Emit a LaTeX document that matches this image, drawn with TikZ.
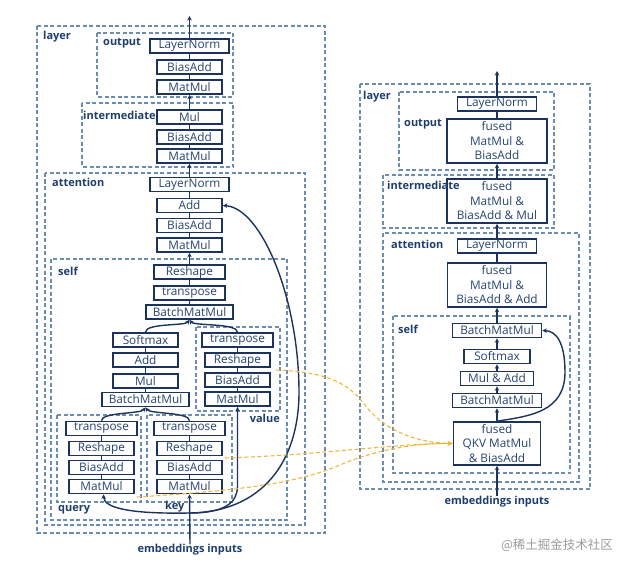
\documentclass[tikz,border=0pt]{standalone}
\usepackage{fontspec}
\setmainfont{Open Sans}
\newfontfamily\cjkfont{Noto Sans CJK SC}
\usetikzlibrary{arrows.meta,calc}
\definecolor{navy}{HTML}{1C335E}
\definecolor{optext}{HTML}{27446F}
\definecolor{dashc}{HTML}{6C8DB2}
\definecolor{lbl}{HTML}{1F3D6B}
\definecolor{orng}{HTML}{F0B53C}
\definecolor{wm}{HTML}{9A9A9A}
\begin{document}
\begin{tikzpicture}[x=1pt,y=-1pt,
 op/.style={draw=navy,fill=white,line width=1.6pt,inner sep=0pt,minimum height=14pt,text=optext,font=\fontsize{11.8}{14.5}\selectfont,align=center},
 grp/.style={draw=dashc,line width=1.1pt,dash pattern=on 4pt off 2.5pt},
 lab/.style={text=lbl,font=\fontsize{11}{12}\selectfont\bfseries,inner sep=0pt,anchor=west},
 con/.style={draw=navy,line width=1.4pt},
 arr/.style={con,-{Stealth[length=4.5pt,width=4.5pt]}},
 oarr/.style={draw=orng,line width=1.1pt,dash pattern=on 4pt off 2.5pt,-{Stealth[length=5pt,width=4.5pt]}},
]
\useasboundingbox (0,0) rectangle (632,567);
% groups left
\draw[grp] (37,26) rectangle (325,533);
\draw[grp] (97,33) rectangle (233,97);
\draw[grp] (82,103) rectangle (233,167);
\draw[grp] (45,173) rectangle (305,525);
\draw[grp] (51,259) rectangle (287,520);
\draw[grp] (196,327) rectangle (280,411);
\draw[grp] (57,415) rectangle (141,502);
\draw[grp] (147,415) rectangle (232,502);
% groups right
\draw[grp] (360,84) rectangle (590,489);
\draw[grp] (399,92) rectangle (554,170);
\draw[grp] (383,175) rectangle (554,228);
\draw[grp] (383,233) rectangle (579,482);
\draw[grp] (393,316) rectangle (570,473);
% labels
\node[lab] (lLayer) at (43,37) {layer};
\node[lab] (lOut) at (103,43) {output};
\node[lab] (lInt) at (83,115) {intermediate};
\node[lab] (lAtt) at (52,182) {attention};
\node[lab] (lSelf) at (58,271) {self};
\node[lab,anchor=east] (lVal) at (280,418) {value};
\node[lab] (lQ) at (58,510) {query};
\node[lab] (lK) at (165,507) {key};
\node[lab] (rLayer) at (363,97) {layer};
\node[lab] (rOut) at (404,124) {output};
\node[lab] (rAtt) at (391,244) {attention};
\node[lab] (rSelf) at (398,329) {self};
% left nodes
\node[op,minimum width=79pt] (oLN) at (189.5,46) {LayerNorm};
\node[op,minimum width=65pt] (oBA) at (189.5,67) {BiasAdd};
\node[op,minimum width=65pt] (oMM) at (189.5,87) {MatMul};
\node[op,minimum width=65pt] (iMul) at (189.5,117) {Mul};
\node[op,minimum width=65pt] (iBA) at (189.5,137) {BiasAdd};
\node[op,minimum width=65pt] (iMM) at (189.5,156) {MatMul};
\node[op,minimum width=79pt] (aLN) at (189.5,184.5) {LayerNorm};
\node[op,minimum width=65pt] (aAdd) at (189.5,205.5) {Add};
\node[op,minimum width=65pt] (aBA) at (189.5,225.5) {BiasAdd};
\node[op,minimum width=65pt] (aMM) at (189.5,245) {MatMul};
\node[op,minimum width=71pt] (sRe) at (189.5,272) {Reshape};
\node[op,minimum width=71pt] (sTr) at (189.5,293) {transpose};
\node[op,minimum width=87pt] (sB1) at (189.5,312) {BatchMatMul};
\node[op,minimum width=65pt] (sSm) at (145.5,340) {Softmax};
\node[op,minimum width=65pt] (sAdd) at (145.5,360) {Add};
\node[op,minimum width=65pt] (sMul) at (145.5,381) {Mul};
\node[op,minimum width=87pt] (sB2) at (145.5,399.5) {BatchMatMul};
\node[op,minimum width=71pt] (vT) at (237.5,340) {transpose};
\node[op,minimum width=65pt] (vRe) at (237.5,360) {Reshape};
\node[op,minimum width=65pt] (vBA) at (237.5,380) {BiasAdd};
\node[op,minimum width=65pt] (vMM) at (237.5,399) {MatMul};
\node[op,minimum width=71pt] (qT) at (101.5,428.5) {transpose};
\node[op,minimum width=65pt] (qRe) at (101.5,448.5) {Reshape};
\node[op,minimum width=65pt] (qBA) at (101.5,467.5) {BiasAdd};
\node[op,minimum width=65pt] (qMM) at (101.5,486.5) {MatMul};
\node[op,minimum width=71pt] (kT) at (189.5,428.5) {transpose};
\node[op,minimum width=65pt] (kRe) at (189.5,448.5) {Reshape};
\node[op,minimum width=65pt] (kBA) at (189.5,467.5) {BiasAdd};
\node[op,minimum width=65pt] (kMM) at (189.5,486.5) {MatMul};
\node[lab,anchor=center,font=\fontsize{11}{12}\selectfont\bfseries] (emb) at (190,550) {embeddings inputs};
% right nodes
\node[op,minimum width=79pt] (rLN) at (497,104) {LayerNorm};
\node[op,minimum width=100pt,minimum height=44pt] (rOF) at (497,141) {fused\\MatMul \&\\BiasAdd};
\node[op,minimum width=100pt,minimum height=44pt] (rIF) at (497,201) {fused\\MatMul \&\\BiasAdd \& Mul};
\node[lab] (rInt) at (387,185) {intermediate};
\node[op,minimum width=79pt] (rALN) at (497,246) {LayerNorm};
\node[op,minimum width=99pt,minimum height=44pt] (rAF) at (497,285) {fused\\MatMul \&\\BiasAdd \& Add};
\node[op,minimum width=89pt] (rB1) at (497,330.5) {BatchMatMul};
\node[op,minimum width=66pt] (rSm) at (497,356.5) {Softmax};
\node[op,minimum width=73pt] (rMA) at (497,378.5) {Mul \& Add};
\node[op,minimum width=89pt] (rB2) at (497,400.5) {BatchMatMul};
\node[op,minimum width=87pt,minimum height=43pt] (rQKV) at (497,443.5) {fused\\QKV MatMul\\\& BiasAdd};
\node[lab,anchor=center,font=\fontsize{11}{12}\selectfont\bfseries] (emb2) at (497,502) {embeddings inputs};
\node[text=wm,font=\cjkfont\fontsize{12.5}{14}\selectfont,inner sep=0pt] (wmk) at (557,545) {@稀土掘金技术社区};
% coordinates
\coordinate (lTop) at (189.5,16);
\coordinate (rTop) at (497,71);
\coordinate (B) at (189.5,513);
\coordinate (vbend) at (237.5,486);
% left connectors
\draw[arr] (oLN.north) -- (lTop);
\draw[con] (oMM.north)--(oBA.south) (oBA.north)--(oLN.south);
\draw[arr] (iMul.north)--(oMM.south);
\draw[con] (iMM.north)--(iBA.south) (iBA.north)--(iMul.south);
\draw[arr] (aLN.north)--(iMM.south);
\draw[con] (aMM.north)--(aBA.south) (aBA.north)--(aAdd.south) (aAdd.north)--(aLN.south);
\draw[arr] (sRe.north)--(aMM.south);
\draw[con] (sB1.north)--(sTr.south) (sTr.north)--(sRe.south);
\draw[con] (sB2.north)--(sMul.south) (sMul.north)--(sAdd.south) (sAdd.north)--(sSm.south);
\draw[con] (vMM.north)--(vBA.south) (vBA.north)--(vRe.south) (vRe.north)--(vT.south);
\draw[con] (qMM.north)--(qBA.south) (qBA.north)--(qRe.south) (qRe.north)--(qT.south);
\draw[con] (kMM.north)--(kBA.south) (kBA.north)--(kRe.south) (kRe.north)--(kT.south);
\draw[arr] (sSm.north) .. controls (145.5,323) and (185,326) .. (sB1.south);
\draw[arr] (vT.north) .. controls (237.5,323) and (194,326) .. (sB1.south);
\draw[arr] (qT.north) .. controls (101.5,412) and (141,414) .. (sB2.south);
\draw[arr] (kT.north) .. controls (189.5,412) and (150,414) .. (sB2.south);
\draw[arr] (emb.north) -- (kMM.south);
\draw[arr] (B) .. controls (135,514) and (104,509) .. ([xshift=2pt]qMM.south);
\draw[arr] (B) .. controls (226,513) and (237.5,502) .. (vbend) -- (vMM.south);
\draw[arr] (B) .. controls (262,512) and (299,462) .. (299,392) .. controls (299,300) and (262,208) .. (aAdd.east);
% right connectors
\draw[arr] (rLN.north) -- (rTop);
\draw[con] (rOF.north) -- (rLN.south);
\draw[arr] (rIF.north) -- (rOF.south);
\draw[arr] (rALN.north) -- (rIF.south);
\draw[con] (rAF.north) -- (rALN.south);
\draw[arr] (rB1.north) -- (rAF.south);
\draw[arr] (rSm.north) -- (rB1.south);
\draw[arr] (rMA.north) -- (rSm.south);
\draw[arr] (rB2.north) -- (rMA.south);
\draw[arr] (rQKV.north) -- (rB2.south);
\draw[arr] (emb2.north) -- (rQKV.south);
\draw[arr] (rQKV.north) .. controls (530,416) and (565,412) .. (565,372) .. controls (565,342) and (556,331) .. (rB1.east);
% orange
\coordinate (o1) at (276,370);
\coordinate (o2) at (225,458);
\coordinate (o3) at (137,497);
\draw[oarr] (o1) .. controls (330,372) and (350,385) .. (365,405) .. controls (385,432) and (420,443) .. (rQKV.west);
\draw[oarr] (o2) .. controls (320,455) and (390,444) .. (rQKV.west);
\draw[oarr] (o3) .. controls (250,490) and (300,482) .. (340,465) .. controls (380,448) and (420,443) .. (rQKV.west);
\end{tikzpicture}
\end{document}
